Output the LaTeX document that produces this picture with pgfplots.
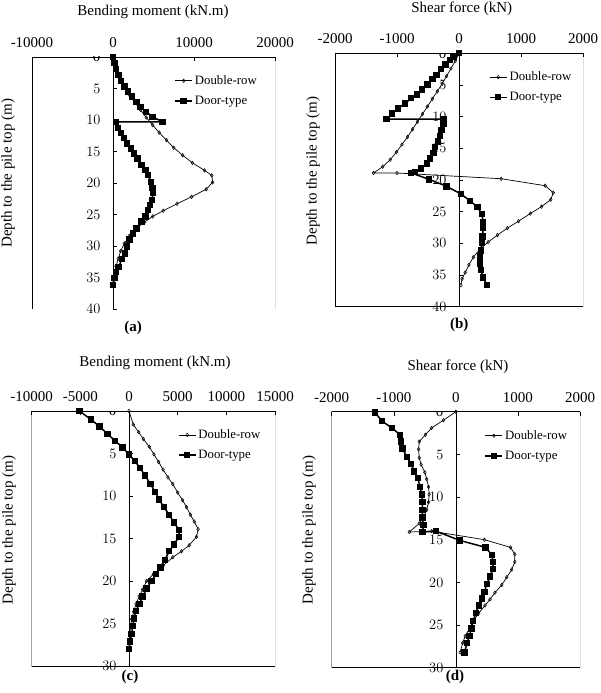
\documentclass[border=0pt]{standalone}
\usepackage{fontspec}
\setmainfont{Liberation Serif}
\usepackage{pgfplots}
\pgfplotsset{compat=1.18}
\newcommand{\fs}{\fontsize{15}{18}\selectfont}
\newcommand{\fl}{\fontsize{12.8}{15}\selectfont}
\pgfplotsset{
  pile/.style={
    scale only axis,
    anchor=south west,
    y dir=reverse,
    axis x line*=top,
    axis y line*=middle,
    tick align=inside,
    major tick length=4pt,
    scaled x ticks=false,
    scaled y ticks=false,
    tick style={black, line width=0.5pt},
    axis line style={black, line width=0.6pt},
    ticklabel style={font=\fs},
    xticklabel style={yshift=6pt},
    yticklabel style={xshift=-9pt},
    ymin=0,
    legend style={draw=none, fill=none, font=\fl, anchor=north west, row sep=6pt, inner sep=0pt},
    legend cell align=left,
  },
  dr/.style={black, line width=0.7pt, mark=diamond, mark size=1.8pt, mark options={line width=0.5pt, fill=white, solid}},
  dt/.style={black, line width=1.5pt, mark=square*, mark size=2.7pt, mark options={line width=0pt, solid}},
}
\newcommand{\zerolab}{\node[font=\fs, anchor=east, xshift=-9pt] at (axis cs:0,0) {0};}
\begin{document}
\begin{tikzpicture}
\useasboundingbox (0pt,0pt) rectangle (600pt,693pt);
% ---------------- (a)
\begin{axis}[pile, at={(32pt,384pt)}, width=243pt, height=252pt,
  xmin=-10000, xmax=20000, xtick={-10000,0,10000,20000},
  xticklabels={-10000,0,10000,20000},
  ymax=40, ytick={0,5,...,40},
  legend style={at={(axis description cs:0.585,0.935)}}]
\draw[black, line width=0.6pt] (rel axis cs:0,0) rectangle (rel axis cs:1,1);
\zerolab
\addplot[dr] coordinates {(0,0) (150,1.2) (450,2.4) (900,3.6) (1400,4.8) (2000,6.0) (2700,7.2) (3400,8.4) (4100,9.6) (4900,10.8) (5700,12.0) (6600,13.2) (7500,14.4) (8600,15.6) (9800,16.8) (11300,18.0) (12200,18.8) (12300,19.9) (11500,21.0) (9700,22.2) (7900,23.3) (6200,24.4) (4900,25.3) (3900,26.2) (2900,27.2) (2000,28.4) (1400,29.6) (950,30.8) (650,32.0) (380,33.2) (180,34.4) (50,35.4) (0,36.0)};
\addlegendentry{Double-row}
\addplot[dt] coordinates {(0,0) (200,1.0) (400,1.9) (700,2.9) (1000,3.8) (1400,4.7) (1850,5.5) (2350,6.3) (2900,7.1) (3400,7.9) (4100,8.7) (4900,9.5) (6100,10.3) (400,10.3) (600,11.3) (1000,12.1) (1350,12.9) (1750,13.7) (2200,14.5) (2600,15.3) (3000,16.1) (3500,17.1) (4000,17.9) (4300,18.7) (4700,19.8) (4900,20.8) (4950,21.6) (4800,22.7) (4600,23.5) (4300,24.3) (4000,25.3) (3500,26.1) (2900,27.2) (2500,28.0) (2050,29.0) (1750,30.1) (1500,31.2) (1100,32.1) (700,33.3) (400,34.1) (200,35.1) (0,36.2)};
\addlegendentry{Door-type}
\end{axis}
% ---------------- (b)
\begin{axis}[pile, at={(335pt,386.3pt)}, width=248pt, height=253.4pt,
  xmin=-2000, xmax=2000, xtick={-2000,-1000,0,1000,2000},
  xticklabels={-2000,-1000,0,1000,2000},
  ymax=40, ytick={0,5,...,40},
  legend style={at={(axis description cs:0.62,0.935)}}]
\draw[black, line width=0.6pt] (rel axis cs:0,0) rectangle (rel axis cs:1,1);
\zerolab
\addplot[dr] coordinates {(0,0) (-60,1.2) (-130,2.4) (-200,3.6) (-270,4.8) (-350,6.0) (-430,7.2) (-510,8.4) (-590,9.6) (-670,10.8) (-750,12.0) (-830,13.2) (-920,14.4) (-1010,15.6) (-1110,16.8) (-1230,17.9) (-1380,18.9) (-1000,18.9) (680,19.8) (1390,20.9) (1520,22.0) (1480,23.1) (1330,24.2) (1150,25.3) (960,26.5) (780,27.6) (620,28.7) (470,29.8) (330,31.0) (230,32.2) (160,33.4) (100,34.6) (50,35.6) (30,36.6)};
\addlegendentry{Double-row}
\addplot[dt] coordinates {(0,0) (-90,0.6) (-150,1.05) (-220,1.8) (-290,2.5) (-360,3.4) (-430,4.1) (-510,4.9) (-600,5.7) (-680,6.5) (-770,7.1) (-870,7.9) (-980,8.7) (-1080,9.5) (-1170,10.4) (-250,10.4) (-250,11.2) (-280,12.1) (-310,13.1) (-340,13.9) (-390,14.8) (-410,15.7) (-470,16.6) (-520,17.4) (-610,18.2) (-710,18.7) (-770,18.9) (-480,19.9) (-200,21.0) (30,22.2) (180,23.3) (300,24.3) (370,25.4) (390,26.6) (390,27.6) (380,28.9) (370,29.9) (350,31.1) (340,32.1) (340,33.2) (350,34.2) (390,35.4) (450,36.6)};
\addlegendentry{Door-type}
\end{axis}
% ---------------- (c)
\begin{axis}[pile, at={(31.7pt,27pt)}, width=243.3pt, height=255pt,
  xmin=-10000, xmax=15000, xtick={-10000,-5000,0,5000,10000,15000},
  xticklabels={-10000,-5000,0,5000,10000,15000},
  ymax=30, ytick={0,5,...,30},
  legend style={at={(axis description cs:0.6,0.935)}}]
\draw[black, line width=0.6pt] (rel axis cs:0,0) rectangle (rel axis cs:1,1);
\zerolab
\addplot[dr] coordinates {(0,0) (440,1.6) (1000,2.5) (1470,3.3) (2080,4.2) (2560,5.1) (3050,6.0) (3500,6.9) (4000,7.8) (4500,8.6) (5000,9.6) (5500,10.5) (5900,11.3) (6300,12.2) (6700,13.0) (7100,13.9) (6930,14.8) (6180,15.8) (5400,16.5) (4500,17.2) (3500,18.2) (2500,19.2) (1800,20.0) (1400,21.0) (1050,21.8) (720,22.7) (480,23.6) (270,24.5) (150,25.4) (80,26.3) (30,27.1) (0,28.0)};
\addlegendentry{Double-row}
\addplot[dt] coordinates {(-5090,0) (-3920,1.0) (-3040,1.8) (-2220,2.7) (-1430,3.5) (-650,4.3) (0,5.1) (610,5.9) (1130,6.7) (1640,7.6) (2220,8.6) (2660,9.5) (3100,10.4) (3580,11.3) (4130,12.2) (4600,13.1) (5150,14.0) (5150,14.8) (4600,15.7) (4130,16.5) (3690,17.5) (3240,18.4) (2760,19.2) (2320,20.0) (1810,20.9) (1400,21.8) (1060,22.7) (720,23.5) (510,24.4) (380,25.3) (270,26.2) (100,27.1) (0,28.0)};
\addlegendentry{Door-type}
\end{axis}
% ---------------- (d)
\begin{axis}[pile, at={(331.7pt,25.3pt)}, width=248.3pt, height=256pt,
  xmin=-2000, xmax=2000, xtick={-2000,-1000,0,1000,2000},
  xticklabels={-2000,-1000,0,1000,2000},
  ymax=30, ytick={0,5,...,30},
  legend style={at={(axis description cs:0.615,0.935)}}]
\draw[black, line width=0.6pt] (rel axis cs:0,0) rectangle (rel axis cs:1,1);
\zerolab
\addplot[dr] coordinates {(0,0) (-200,1.0) (-390,1.9) (-490,2.7) (-590,3.5) (-600,4.4) (-590,5.4) (-560,6.2) (-500,7.1) (-470,7.9) (-440,8.8) (-430,9.7) (-440,10.6) (-470,11.5) (-520,12.4) (-590,13.1) (-750,14.1) (-390,14.0) (460,15.0) (880,15.9) (950,16.7) (950,17.6) (900,18.5) (820,19.4) (740,20.3) (630,21.2) (550,22.0) (470,22.7) (370,23.6) (280,24.5) (220,25.4) (150,26.3) (110,27.1) (70,28.2)};
\addlegendentry{Double-row}
\addplot[dt] coordinates {(-1300,0.1) (-1190,1.1) (-1030,1.9) (-900,2.7) (-880,3.5) (-860,4.3) (-790,5.3) (-720,6.1) (-670,7.0) (-610,7.8) (-580,8.8) (-550,9.7) (-540,10.6) (-540,11.5) (-540,12.4) (-520,13.3) (-540,14.1) (-320,14.0) (70,15.1) (480,15.9) (580,16.8) (600,17.6) (600,18.4) (550,19.3) (500,20.2) (460,21.1) (420,21.9) (370,22.7) (320,23.6) (280,24.5) (250,25.4) (220,26.3) (180,27.1) (140,28.2)};
\addlegendentry{Door-type}
\end{axis}
% ---------------- texts
\node[font=\fs] at (153pt,681pt) {Bending moment (kN.m)};
\node[font=\fs] at (461.7pt,684pt) {Shear force (kN)};
\node[font=\fs] at (155pt,329.7pt) {Bending moment (kN.m)};
\node[font=\fs] at (458pt,326.3pt) {Shear force (kN)};
\node[font=\fs, rotate=90] at (8pt,519.7pt) {Depth to the pile top (m)};
\node[font=\fs, rotate=90] at (313pt,522pt) {Depth to the pile top (m)};
\node[font=\fs, rotate=90] at (9pt,163pt) {Depth to the pile top (m)};
\node[font=\fs, rotate=90] at (309pt,163pt) {Depth to the pile top (m)};
\node[font=\fs\bfseries] at (133pt,365pt) {(a)};
\node[font=\fs\bfseries] at (459.3pt,368pt) {(b)};
\node[font=\fs\bfseries] at (130pt,16.3pt) {(c)};
\node[font=\fs\bfseries] at (455pt,16.3pt) {(d)};
\end{tikzpicture}
\end{document}
